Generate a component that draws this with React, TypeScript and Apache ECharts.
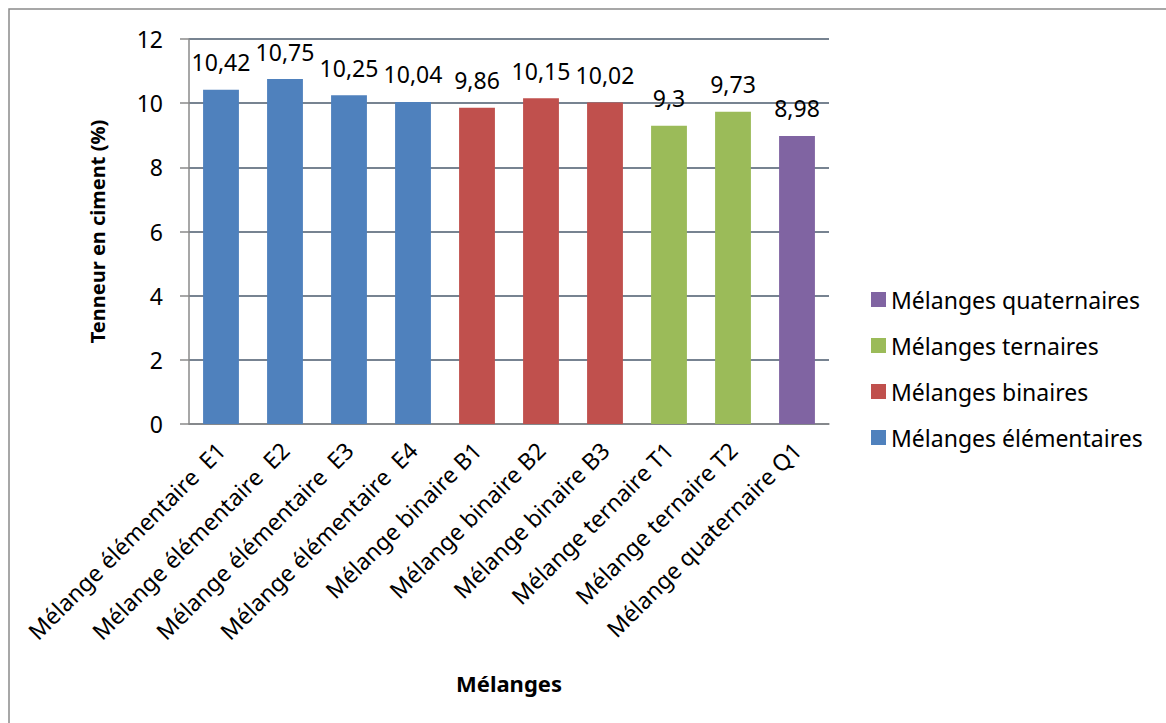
import React, { useEffect, useRef } from "react";
import * as echarts from "echarts";

const categories = [
  "Mélange élémentaire  E1",
  "Mélange élémentaire  E2",
  "Mélange élémentaire  E3",
  "Mélange élémentaire  E4",
  "Mélange binaire B1",
  "Mélange binaire B2",
  "Mélange binaire B3",
  "Mélange ternaire T1",
  "Mélange ternaire T2",
  "Mélange quaternaire Q1",
];
const values = [10.42, 10.75, 10.25, 10.04, 9.86, 10.15, 10.02, 9.3, 9.73, 8.98];
const groupOf = [0, 0, 0, 0, 1, 1, 1, 2, 2, 3];
const groupNames = [
  "Mélanges élémentaires",
  "Mélanges binaires",
  "Mélanges ternaires",
  "Mélanges quaternaires",
];
const groupColors = ["#4F81BD", "#C0504D", "#9BBB59", "#8064A2"];
const yTicks = { min: 0, max: 12, interval: 2 };

const FONT = "'Noto Sans', 'Open Sans', sans-serif";

export default function App() {
  const ref = useRef<HTMLDivElement>(null);
  useEffect(() => {
    if (!ref.current) return;
    const chart = echarts.init(ref.current, null, { renderer: "svg" });
    const series = groupNames.map((name, g) => ({
      name,
      type: "bar",
      stack: "all",
      barWidth: "56%",
      itemStyle: { color: groupColors[g] },
      label: {
        show: true,
        position: "top",
        distance: 16,
        color: "#000",
        fontFamily: FONT,
        fontSize: 23,
        formatter: (p: any) => String(p.value).replace(".", ","),
      },
      data: values.map((v, i) => (groupOf[i] === g ? v : "-")),
    }));
    chart.setOption({
      animation: false,
      backgroundColor: "#fff",
      textStyle: { fontFamily: FONT },
      graphic: [
        {
          type: "rect",
          shape: { x: 9, y: 9, width: 1300, height: 900 },
          style: { fill: "none", stroke: "#8a8a8a", lineWidth: 1.5 },
          silent: true,
        },
      ],
      grid: { left: 189, top: 39, right: 337, bottom: 299 },
      legend: {
        orient: "vertical",
        left: 866,
        top: 283,
        itemWidth: 15,
        itemHeight: 15,
        itemGap: 23,
        icon: "rect",
        data: [...groupNames].reverse(),
        textStyle: { fontFamily: FONT, fontSize: 23, color: "#000" },
      },
      xAxis: {
        type: "category",
        data: categories,
        name: "Mélanges",
        nameLocation: "middle",
        nameGap: 248,
        nameTextStyle: { fontFamily: FONT, fontSize: 22, fontWeight: "bold", color: "#000" },
        axisLine: { lineStyle: { color: "#8a8a8a", width: 1.5 } },
        axisTick: { show: false },
        axisLabel: {
          rotate: 45,
          interval: 0,
          margin: 22,
          color: "#000",
          fontFamily: FONT,
          fontSize: 23,
        },
      },
      yAxis: {
        type: "value",
        min: yTicks.min,
        max: yTicks.max,
        interval: yTicks.interval,
        name: "Tenneur en ciment (%)",
        nameLocation: "middle",
        nameGap: 82,
        nameTextStyle: { fontFamily: FONT, fontSize: 20, fontWeight: "bold", color: "#000" },
        axisLine: { show: true, lineStyle: { color: "#8a8a8a", width: 1.5 } },
        axisTick: { show: true, length: 9, lineStyle: { color: "#8a8a8a", width: 1.5 } },
        axisLabel: { margin: 26, color: "#000", fontFamily: FONT, fontSize: 23 },
        splitLine: { lineStyle: { color: "#4a5a6c", width: 1.5 } },
      },
      series,
    });
    return () => chart.dispose();
  }, []);
  return (
    <div
      ref={ref}
      style={{ position: "fixed", left: 0, top: 0, width: 1166, height: 723 }}
    />
  );
}
